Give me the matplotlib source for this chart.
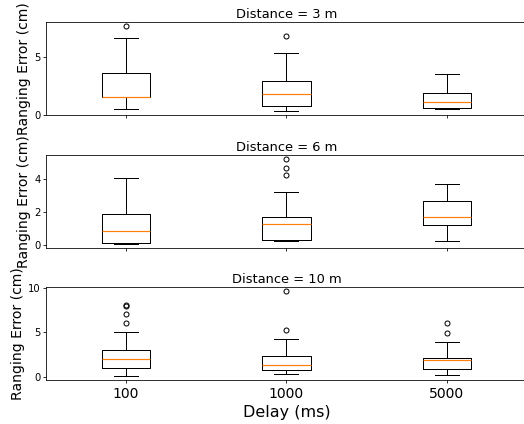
import matplotlib
matplotlib.use("Agg")
import matplotlib.pyplot as plt
from matplotlib.ticker import MultipleLocator

delays = ["100", "1000", "5000"]
distances = ["3", "6", "10"]

# per distance panel: values for delay 100, 1000, 5000
whislo = [[0.48, 0.30, 0.50], [0.10, 0.28, 0.28], [0.08, 0.34, 0.15]]
q1 = [[1.50, 0.75, 0.55], [0.12, 0.30, 1.25], [1.02, 0.72, 0.90]]
med = [[1.56, 1.75, 1.06], [0.88, 1.27, 1.72], [2.00, 1.32, 1.90]]
q3 = [[3.60, 2.90, 1.84], [1.88, 1.72, 2.70], [2.99, 2.30, 2.15]]
whishi = [[6.60, 5.35, 3.50], [4.08, 3.25, 3.72], [5.00, 4.26, 3.90]]
fliers = [
    [[7.65], [6.80], []],
    [[], [4.28, 4.70, 5.23], []],
    [[6.04, 7.06, 7.98, 8.08], [5.28, 9.70], [4.90, 6.10]],
]
ylims = [(-0.02, 8.0), (-0.15, 5.5), (-0.37, 10.1)]
ystep = [5, 2, 5]

W, H = 524, 424
fig = plt.figure(figsize=(W / 72, H / 72), dpi=72)

axes_px = [(22, 115), (154.7, 247.7), (287.3, 380)]
left_px, right_px = 45.7, 527.2

for i, (top, bot) in enumerate(axes_px):
    ax = fig.add_axes([left_px / W, 1 - bot / H, (right_px - left_px) / W, (bot - top) / H])
    stats = []
    for j in range(3):
        stats.append(dict(med=med[i][j], q1=q1[i][j], q3=q3[i][j],
                          whislo=whislo[i][j], whishi=whishi[i][j],
                          fliers=fliers[i][j], label=delays[j]))
    ax.bxp(stats, positions=[1, 2, 3], widths=0.3,
           medianprops=dict(color='#ff7f0e', linewidth=1.2),
           flierprops=dict(marker='o', markersize=5, markerfacecolor='none',
                           markeredgecolor='black', markeredgewidth=1))
    ax.set_xlim(0.5, 3.5)
    ax.set_ylim(*ylims[i])
    ax.yaxis.set_major_locator(MultipleLocator(ystep[i]))
    ax.spines['right'].set_visible(False)
    ax.set_title(f"Distance = {distances[i]} m", fontsize=13, pad=4)
    ax.set_ylabel("Ranging Error (cm)", fontsize=14, labelpad=3)
    ax.tick_params(axis='y', labelsize=10, length=3, pad=2)
    ax.tick_params(axis='x', length=3)
    if i < 2:
        ax.set_xticklabels([])
    else:
        ax.tick_params(axis='x', labelsize=14)
        ax.set_xlabel("Delay (ms)", fontsize=16)

fig.savefig("out.png", dpi=72)
